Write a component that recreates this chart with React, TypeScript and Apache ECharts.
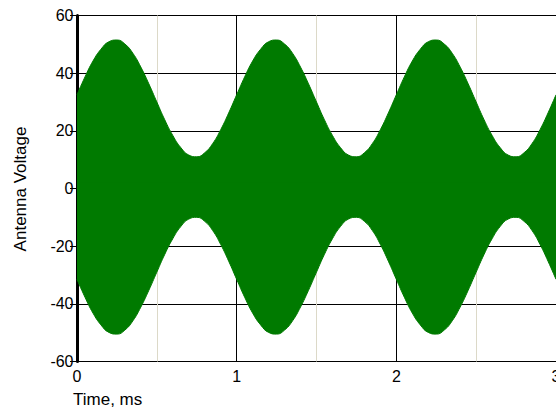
import React, { useEffect, useRef } from "react";
import * as echarts from "echarts";

const times = [
  0, 0.05, 0.1, 0.15, 0.2, 0.25, 0.3, 0.35, 0.4, 0.45, 0.5, 0.55, 0.6, 0.65, 0.7, 0.75, 0.8, 0.85, 0.9, 0.95,
  1, 1.05, 1.1, 1.15, 1.2, 1.25, 1.3, 1.35, 1.4, 1.45, 1.5, 1.55, 1.6, 1.65, 1.7, 1.75, 1.8, 1.85, 1.9, 1.95,
  2, 2.05, 2.1, 2.15, 2.2, 2.25, 2.3, 2.35, 2.4, 2.45, 2.5, 2.55, 2.6, 2.65, 2.7, 2.75, 2.8, 2.85, 2.9, 2.95,
  3,
];

const upperEnvelope = [
  32.5, 38.7, 44.2, 48.3, 50.9, 51.5, 50.1, 46.9, 42.1, 36.3, 30.0, 23.8, 18.4, 14.2, 11.6, 11.0, 12.4, 15.6, 20.4, 26.2,
  32.5, 38.7, 44.2, 48.3, 50.9, 51.5, 50.1, 46.9, 42.1, 36.3, 30.0, 23.8, 18.4, 14.2, 11.6, 11.0, 12.4, 15.6, 20.4, 26.2,
  32.5, 38.7, 44.2, 48.3, 50.9, 51.5, 50.1, 46.9, 42.1, 36.3, 30.0, 23.8, 18.4, 14.2, 11.6, 11.0, 12.4, 15.6, 20.4, 26.2,
  32.5,
];

const lowerEnvelope = [
  -31.5, -37.7, -43.2, -47.3, -49.9, -50.5, -49.1, -45.9, -41.1, -35.3, -29.0, -22.8, -17.4, -13.2, -10.6, -10.0, -11.4, -14.6, -19.4, -25.2,
  -31.5, -37.7, -43.2, -47.3, -49.9, -50.5, -49.1, -45.9, -41.1, -35.3, -29.0, -22.8, -17.4, -13.2, -10.6, -10.0, -11.4, -14.6, -19.4, -25.2,
  -31.5, -37.7, -43.2, -47.3, -49.9, -50.5, -49.1, -45.9, -41.1, -35.3, -29.0, -22.8, -17.4, -13.2, -10.6, -10.0, -11.4, -14.6, -19.4, -25.2,
  -31.5,
];

const FONT = "Liberation Sans, Arial, sans-serif";
const GREEN = "#007a00";

export default function App() {
  const ref = useRef<HTMLDivElement>(null);
  useEffect(() => {
    const chart = echarts.init(ref.current!, null, { renderer: "svg" });
    chart.setOption({
      animation: false,
      grid: { left: 77, top: 15.5, right: 0, bottom: 50.5, containLabel: false, outerBoundsMode: "none" },
      xAxis: {
        type: "value",
        min: 0,
        max: 3,
        interval: 1,
        axisLine: { show: true, lineStyle: { color: "#000", width: 2 } },
        axisTick: { show: true, length: 5, lineStyle: { color: "#000", width: 1 } },
        axisLabel: { color: "#000", fontSize: 16, fontFamily: FONT, margin: 7 },
        splitLine: { show: true, lineStyle: { color: "#000", width: 1 } },
        minorTick: { show: false, splitNumber: 2 },
        minorSplitLine: { show: true, lineStyle: { color: "#dcd9c8", width: 1 } },
      },
      yAxis: {
        type: "value",
        min: -60,
        max: 60,
        interval: 20,
        offset: 2.5,
        axisLine: { show: true, lineStyle: { color: "#000", width: 3 } },
        axisTick: { show: true, length: 7, lineStyle: { color: "#000", width: 1 } },
        axisLabel: { color: "#000", fontSize: 16, fontFamily: FONT, margin: 1 },
        splitLine: { show: true, lineStyle: { color: "#000", width: 1 } },
      },
      series: [
        {
          type: "line",
          data: times.map((t, i) => [t, upperEnvelope[i]]),
          showSymbol: false,
          smooth: true,
          lineStyle: { color: GREEN, width: 1 },
          areaStyle: { color: GREEN, opacity: 1, origin: -2 },
        },
        {
          type: "line",
          data: times.map((t, i) => [t, lowerEnvelope[i]]),
          showSymbol: false,
          smooth: true,
          lineStyle: { color: GREEN, width: 1 },
          areaStyle: { color: GREEN, opacity: 1, origin: 2 },
        },
      ],
      graphic: [
        {
          type: "text",
          x: 20,
          y: 189,
          rotation: Math.PI / 2,
          style: {
            text: "Antenna Voltage",
            fill: "#000",
            font: `17px ${FONT}`,
            textAlign: "center",
            textVerticalAlign: "middle",
          },
        },
        {
          type: "text",
          x: 73,
          y: 399,
          style: {
            text: "Time, ms",
            fill: "#000",
            font: `17px ${FONT}`,
            textAlign: "left",
            textVerticalAlign: "middle",
          },
        },
      ],
    });
    return () => chart.dispose();
  }, []);
  return <div ref={ref} style={{ position: "absolute", left: 0, top: 0, width: 556, height: 412 }} />;
}
